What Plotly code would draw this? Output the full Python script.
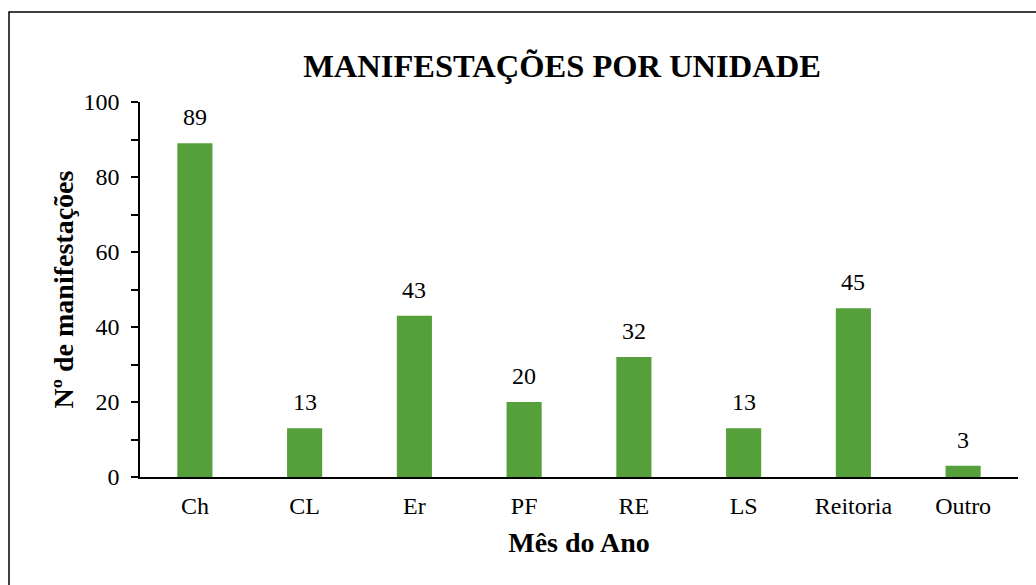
import plotly.graph_objects as go

unidades = ["Ch", "CL", "Er", "PF", "RE", "LS", "Reitoria", "Outro"]
manifestacoes = [89, 13, 43, 20, 32, 13, 45, 3]

W, H = 1036, 585
ml, mr, mt, mb = 140, 18, 102, 108
pw, ph = W - ml - mr, H - mt - mb

fig = go.Figure(go.Bar(
    x=unidades,
    y=manifestacoes,
    width=0.32,
    marker=dict(color="#55a03b", line=dict(width=0)),
    hoverinfo="x+y",
))

for u, v in zip(unidades, manifestacoes):
    fig.add_annotation(x=u, y=v, text=str(v), showarrow=False,
                       yanchor="bottom", yshift=11,
                       font=dict(family="Liberation Serif", size=24, color="black"))

# moldura externa do grafico
fig.add_shape(type="rect", xref="paper", yref="paper",
              x0=(9 - ml) / pw, x1=(W + 6 - ml) / pw,
              y0=(H - mb - (H + 6)) / ph, y1=(H - mb - 12) / ph,
              line=dict(color="black", width=1.5))

fig.update_layout(
    width=W, height=H,
    margin=dict(l=ml, r=mr, t=mt, b=mb),
    paper_bgcolor="white",
    plot_bgcolor="white",
    font=dict(family="Liberation Serif", color="black"),
    title=dict(text="<b>MANIFESTAÇÕES POR UNIDADE</b>",
               x=(562 - ml) / pw, xref="paper", xanchor="center",
               y=1 - 66 / H, yanchor="middle",
               font=dict(size=32.5)),
    showlegend=False,
)
fig.update_xaxes(
    showline=True, linecolor="black", linewidth=1.5,
    ticks="", tickfont=dict(size=24), ticklabelstandoff=6,
    title=dict(text="<b>Mês do Ano</b>", font=dict(size=28), standoff=15),
)
fig.update_yaxes(
    range=[0, 100], tick0=0, dtick=20,
    showgrid=False, zeroline=False,
    showline=True, linecolor="black", linewidth=1.5,
    ticks="outside", ticklen=7, tickwidth=1.5, tickcolor="black",
    minor=dict(dtick=10, ticks="outside", ticklen=7, tickwidth=1.5, tickcolor="black", showgrid=False),
    tickfont=dict(size=24), ticklabelstandoff=7,
    title=dict(text="<b>Nº de manifestações</b>", font=dict(size=28), standoff=2),
)

fig.write_html("out.html", config={"displayModeBar": False},
               post_script="document.body.style.margin='0';")
